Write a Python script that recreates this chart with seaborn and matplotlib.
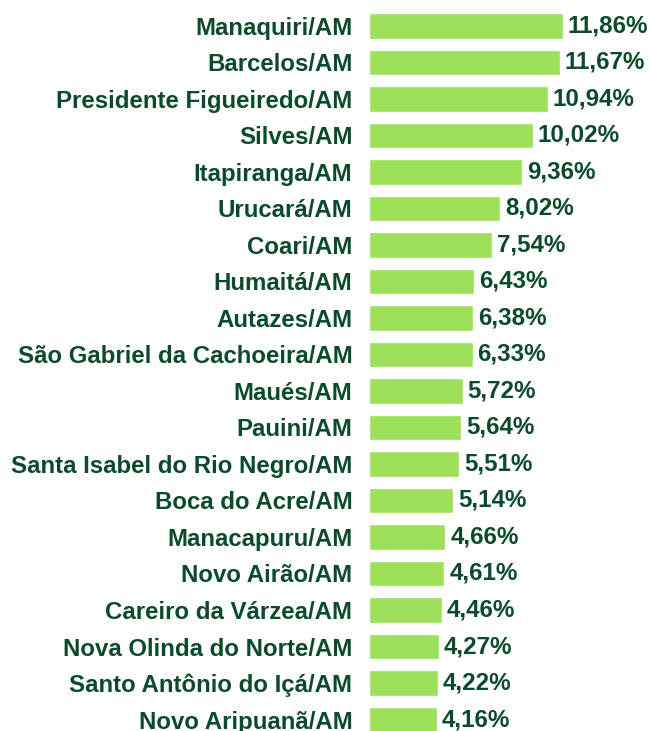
import matplotlib
matplotlib.use("Agg")
import matplotlib.pyplot as plt
import seaborn as sns
import pandas as pd

municipios = [
    "Manaquiri/AM", "Barcelos/AM", "Presidente Figueiredo/AM", "Silves/AM",
    "Itapiranga/AM", "Urucará/AM", "Coari/AM", "Humaitá/AM", "Autazes/AM",
    "São Gabriel da Cachoeira/AM", "Maués/AM", "Pauini/AM",
    "Santa Isabel do Rio Negro/AM", "Boca do Acre/AM", "Manacapuru/AM",
    "Novo Airão/AM", "Careiro da Várzea/AM", "Nova Olinda do Norte/AM",
    "Santo Antônio do Içá/AM", "Novo Aripuanã/AM",
]
percentuais = [11.86, 11.67, 10.94, 10.02, 9.36, 8.02, 7.54, 6.43, 6.38, 6.33,
               5.72, 5.64, 5.51, 5.14, 4.66, 4.61, 4.46, 4.27, 4.22, 4.16]

cor_barra = "#9ce159"
cor_texto = "#0b4a2c"

df = pd.DataFrame({"municipio": municipios, "pct": percentuais})

sns.set_style("white")
plt.rcParams["font.family"] = ["Liberation Sans", "DejaVu Sans"]

fig = plt.figure(figsize=(6.5, 7.31), dpi=100)
ax = fig.add_axes([369 / 650, 0, 281 / 650, 1])

sns.barplot(data=df, y="municipio", x="pct", color=cor_barra, saturation=1,
            width=0.69, orient="h", ax=ax)

ax.set_xlim(0, 281 / 16.36)
ax.set_ylim(19.315, -0.712)

for i, v in enumerate(percentuais):
    ax.text(v + 0.3, i, f"{v:.2f}%".replace(".", ","), va="center", ha="left",
            fontsize=17.4, fontweight="bold", color=cor_texto)

ax.set_xlabel("")
ax.set_ylabel("")
ax.set_xticks([])
ax.tick_params(axis="y", length=0, pad=12)
for lbl in ax.get_yticklabels():
    lbl.set_fontsize(17.3)
    lbl.set_fontweight("bold")
    lbl.set_color(cor_texto)
sns.despine(ax=ax, left=True, bottom=True)

fig.savefig("out.png", dpi=100)
